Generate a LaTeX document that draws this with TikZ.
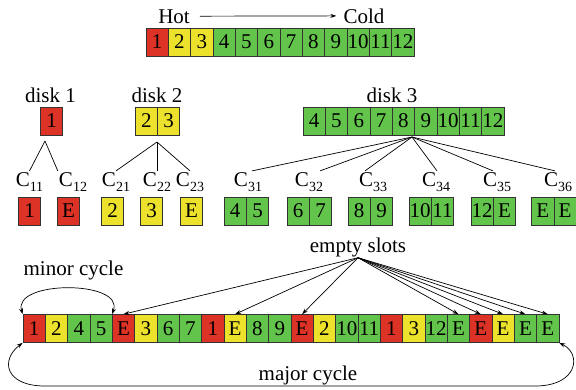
\documentclass[tikz,border=0pt]{standalone}
\usepackage{fontspec}
\setmainfont{Liberation Serif}
\usetikzlibrary{arrows.meta}
\definecolor{hotred}{RGB}{221,51,38}
\definecolor{warmyellow}{RGB}{236,226,44}
\definecolor{coldgreen}{RGB}{99,196,75}
\newcommand{\csub}[1]{C\raisebox{-5.5pt}{\fontsize{14}{14}\selectfont #1}}
\tikzset{cell/.style={draw=black!80,line width=0.6pt,minimum width=22.33pt,minimum height=28pt,inner sep=0pt},
 lbl/.style={inner sep=1pt,anchor=base},
 link/.style={line width=0.7pt},
 >={Stealth[length=6pt,width=4pt]},
 }

\begin{document}
\begin{tikzpicture}[x=1pt,y=-1pt,font=\fontsize{21}{25}\selectfont]
    \useasboundingbox (0,0) rectangle (576,389);
    % temperature order
    \node[lbl] (hot) at (174,23) {Hot};
    \node[lbl] (cold) at (364,23) {Cold};
    \draw[link,->,shorten <=9pt,shorten >=6pt] (hot) -- (cold);
    \foreach \txt/\col [count=\i] in {1/hotred,2/warmyellow,3/warmyellow,4/coldgreen,5/coldgreen,6/coldgreen,7/coldgreen,8/coldgreen,9/coldgreen,10/coldgreen,11/coldgreen,12/coldgreen}
        \node[cell,fill=\col] (t\i) at ({146+(\i-0.5)*22.33},42) {\txt};

    % disks
    \node[lbl] (disk1) at (50.5,102) {disk 1};
    \node[lbl] (disk2) at (157,102) {disk 2};
    \node[lbl] (disk3) at (392,102) {disk 3};
    \node[cell,fill=hotred] (d1) at (51.5,121) {1};
    \node[cell,fill=warmyellow] (d2a) at (146.3,121) {2};
    \node[cell,fill=warmyellow] (d2b) at (168.6,121) {3};
    \foreach \txt [count=\i] in {4,5,6,7,8,9,10,11,12}
        \node[cell,fill=coldgreen] (d3\i) at ({303+(\i-0.5)*22.33},121) {\txt};
    \coordinate (a1) at (45,141);
    \coordinate (a2) at (157,142);
    \coordinate (a3) at (412,137);

    % channels
    \node[lbl] (c11) at (29.5,186) {\csub{11}};
    \node[lbl] (c12) at (73,186) {\csub{12}};
    \node[lbl] (c21) at (116,186) {\csub{21}};
    \node[lbl] (c22) at (157,186) {\csub{22}};
    \node[lbl] (c23) at (190,186) {\csub{23}};
    \draw[link] (a1) -- (c11.north);
    \draw[link] (a1) -- (c12.north west);
    \draw[link] (a2) -- (c21.north);
    \draw[link] (a2) -- (c22.north);
    \draw[link] (a2) -- (c23.north);
    \foreach \x/\d [count=\i] in {248/4,309/11,373/-8,436/1,497/-4,558/-3} {
        \node[lbl] (c3\i) at (\x,186) {\csub{3\i}};
        \draw[link] (a3) -- ([xshift=\d pt]c3\i.north);
    }
    \node[cell,fill=hotred] (k11) at (29.5,211) {1};
    \node[cell,fill=hotred] (k12) at (68.5,211) {E};
    \node[cell,fill=warmyellow] (k21) at (112.5,211) {2};
    \node[cell,fill=warmyellow] (k22) at (151.5,211) {3};
    \node[cell,fill=warmyellow] (k23) at (191.5,211) {E};
    \foreach \x/\p/\q [count=\i] in {224/4/5,287/6/7,348/8/9,409/10/11,471/12/E,531.5/E/E} {
        \node[cell,fill=coldgreen] (k3\i a) at (\x+11.17,211) {\p};
        \node[cell,fill=coldgreen] (k3\i b) at (\x+33.5,211) {\q};
    }

    % broadcast
    \foreach \txt/\col [count=\i] in {1/hotred,2/warmyellow,4/coldgreen,5/coldgreen,E/hotred,3/warmyellow,6/coldgreen,7/coldgreen,1/hotred,E/warmyellow,8/coldgreen,9/coldgreen,E/hotred,2/warmyellow,10/coldgreen,11/coldgreen,1/hotred,3/warmyellow,12/coldgreen,E/coldgreen,E/hotred,E/warmyellow,E/coldgreen,E/coldgreen}
        \node[cell,fill=\col] (b\i) at ({23+(\i-0.5)*22.33},328.5) {\txt};
    \node[lbl] (empty) at (358,252) {empty slots};
    \foreach \k in {5,10,13,20,21,22,23,24}
        \draw[link,->] (empty.south) -- (b\k.north);
    \node[lbl] (minor) at (73.5,275) {minor cycle};
    \draw[link,<->] (b1.north west) .. controls (12,280) and (125,280) .. (b5.north west);
    \node[lbl] (major) at (308,380) {major cycle};
    \draw[link,<->] (b24.south east) .. controls (582,354) and (578,386) .. (535,386) -- (45,386) .. controls (5,386) and (0,360) .. (b1.south west);
\end{tikzpicture}
\end{document}
